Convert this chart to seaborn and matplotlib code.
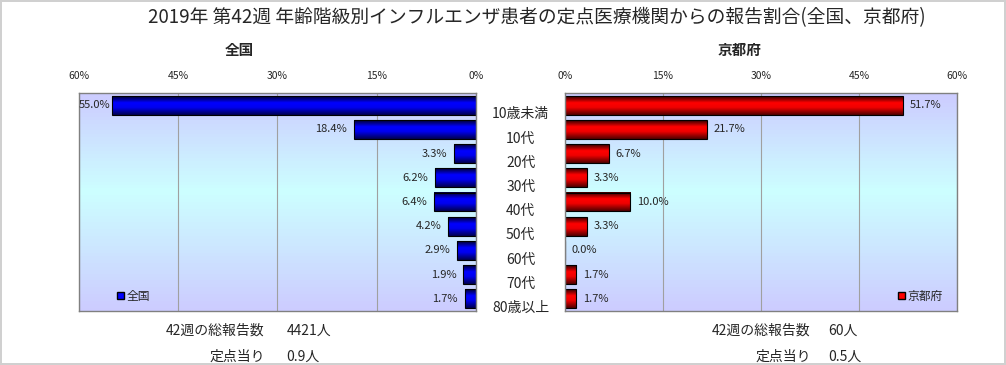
import numpy as np
import pandas as pd
import seaborn as sns
import matplotlib.pyplot as plt
from matplotlib.colors import LinearSegmentedColormap
from matplotlib.patches import Patch
from matplotlib.ticker import FuncFormatter
import matplotlib.transforms as mtransforms

# data
categories = ['10歳未満', '10代', '20代', '30代', '40代', '50代', '60代', '70代', '80歳以上']
zenkoku = [55.0, 18.4, 3.3, 6.2, 6.4, 4.2, 2.9, 1.9, 1.7]
kyoto = [51.7, 21.7, 6.7, 3.3, 10.0, 3.3, 0.0, 1.7, 1.7]
xticks = [0, 15, 30, 45, 60]

title = '2019年 第42週 年齢階級別インフルエンザ患者の定点医療機関からの報告割合(全国、京都府)'
zenkoku_total = ['42週の総報告数', '4421人']
zenkoku_per = ['定点当り', '0.9人']
kyoto_total = ['42週の総報告数', '60人']
kyoto_per = ['定点当り', '0.5人']

sns.set_style('white')
plt.rcParams['font.family'] = ['Noto Sans CJK JP', 'DejaVu Sans']

df = pd.DataFrame({'age': categories, '全国': zenkoku, '京都府': kyoto})

fig = plt.figure(figsize=(10.06, 3.65), dpi=100)
fig.patch.set_edgecolor('#d0d0d0')
fig.patch.set_linewidth(1.5)

ax_l = fig.add_axes([0.0785, 0.148, 0.3946, 0.597])
ax_r = fig.add_axes([0.5616, 0.148, 0.3897, 0.597])

bg_cmap = LinearSegmentedColormap.from_list('bg', [(0, '#ccccff'), (0.45, '#ccffff'), (1, '#ccccff')])
bar_cmaps = {
    '全国': LinearSegmentedColormap.from_list('b', [(0, '#000030'), (0.35, '#0000ff'), (0.6, '#0000f0'), (1, '#000050')]),
    '京都府': LinearSegmentedColormap.from_list('r', [(0, '#300000'), (0.35, '#ff0000'), (0.6, '#f00000'), (1, '#500000')]),
}
solid = {'全国': '#0000ff', '京都府': '#ff0000'}
grad = np.linspace(0, 1, 64).reshape(-1, 1)

for ax, col in [(ax_l, '全国'), (ax_r, '京都府')]:
    # background gradient
    ax.imshow(grad, cmap=bg_cmap, extent=[0, 1, 0, 1], transform=ax.transAxes,
              aspect='auto', origin='upper', zorder=0)
    sns.barplot(data=df, x=col, y='age', orient='h', ax=ax, color=solid[col],
                edgecolor='black', linewidth=0.8, width=0.78, saturation=1)
    # gradient fill for each bar
    for p in list(ax.patches):
        x0, y0, x1, y1 = p.get_bbox().extents
        if x1 - x0 <= 0:
            continue
        ax.imshow(grad, cmap=bar_cmaps[col], extent=[x0, x1, y0, y1],
                  aspect='auto', origin='lower', zorder=p.get_zorder() - 0.01)
        p.set_facecolor('none')
        p.set_zorder(p.get_zorder() + 0.5)

    ax.set_xlim(0, 60)
    ax.set_ylim(len(categories) - 0.5, -0.5)
    ax.set_xticks(xticks)
    ax.xaxis.set_major_formatter(FuncFormatter(lambda v, _: f'{int(v)}%'))
    ax.tick_params(axis='x', length=0, pad=9, labelsize=7.5, top=True, labeltop=True,
                   bottom=False, labelbottom=False)
    ax.set_yticks([])
    ax.set_xlabel('')
    ax.set_ylabel('')
    ax.grid(axis='x', color='#a0a0a0', linewidth=0.8)
    ax.set_axisbelow(True)
    for s in ax.spines.values():
        s.set_color('#808080')
        s.set_linewidth(1)

    vals = df[col].tolist()
    for i, v in enumerate(vals):
        if ax is ax_l:
            # the longest bar leaves almost no room on the left
            pad = 1 if v > 50 else 5
            ax.annotate(f'{v:.1f}%', xy=(v, i), xytext=(-pad, 0), textcoords='offset points',
                        ha='right', va='center', fontsize=8)
        else:
            ax.annotate(f'{v:.1f}%', xy=(v, i), xytext=(5, 0), textcoords='offset points',
                        ha='left', va='center', fontsize=8)

ax_l.invert_xaxis()

ax_l.legend(handles=[Patch(facecolor='#0000ff', edgecolor='black')], labels=['全国'],
            loc='lower left', bbox_to_anchor=(0.07, -0.01), frameon=False,
            handlelength=0.55, handleheight=0.55, handletextpad=0.2, fontsize=8.5)
ax_r.legend(handles=[Patch(facecolor='#ff0000', edgecolor='black')], labels=['京都府'],
            loc='lower right', bbox_to_anchor=(0.99, -0.01), frameon=False,
            handlelength=0.55, handleheight=0.55, handletextpad=0.2, fontsize=8.5)

# age labels between the two panels
trans = mtransforms.blended_transform_factory(ax_l.transAxes, ax_l.transData)
for i, cat in enumerate(categories):
    ax_l.text(1.113, i + 0.38, cat, transform=trans, ha='center', va='center', fontsize=10)

fig.text(0.534, 0.953, title, ha='center', va='center', fontsize=13.5)
fig.text(0.238, 0.863, '全国', ha='center', va='center', fontsize=10.5, fontweight='bold')
fig.text(0.735, 0.863, '京都府', ha='center', va='center', fontsize=10.5, fontweight='bold')

for xr, xl, rows in [(0.263, 0.285, [zenkoku_total, zenkoku_per]),
                     (0.806, 0.823, [kyoto_total, kyoto_per])]:
    for y, (lab, num) in zip([0.094, 0.022], rows):
        fig.text(xr, y, lab, ha='right', va='center', fontsize=10)
        fig.text(xl, y, num, ha='left', va='center', fontsize=10)

fig.savefig('out.png', dpi=100)
